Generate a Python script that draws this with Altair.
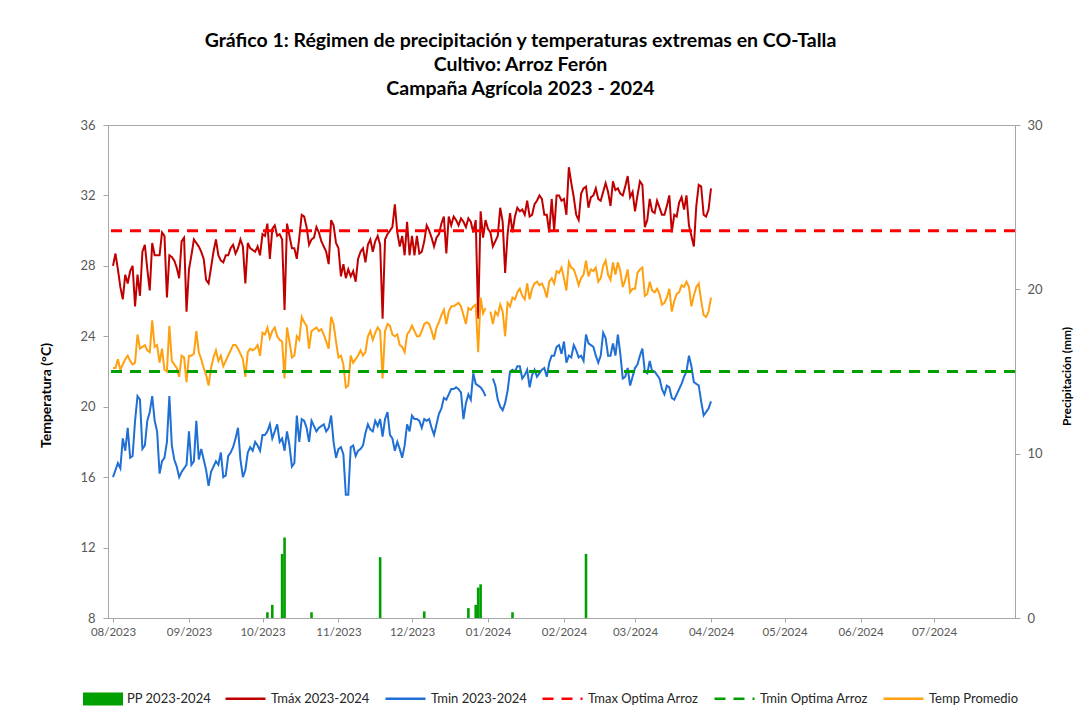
import altair as alt
import pandas as pd

# ---------------- data (daily, from 2023-08-01) ----------------
start_date = "2023-08-01"

tmax = [
    28.0, 28.7, 27.8, 26.8, 26.1, 27.5, 27.0, 27.7, 28.0, 25.7,
    27.5, 26.3, 28.8, 29.2, 27.8, 26.6, 29.3, 28.6, 28.6, 28.6,
    29.9, 29.7, 26.2, 28.6, 28.5, 28.3, 27.9, 27.3, 29.4, 29.6,
    25.4, 27.8, 28.6, 29.5, 29.3, 29.1, 28.8, 28.4, 27.2, 27.0,
    27.9, 28.8, 29.5, 28.6, 28.3, 28.2, 28.6, 28.6, 29.0, 29.2,
    28.7, 29.0, 29.5, 29.1, 27.0, 29.3, 29.0, 28.9, 28.8, 29.1,
    28.6, 29.8, 29.7, 30.4, 28.4, 30.1,
    30.3, 29.7, 29.8, 29.5, 25.5, 30.4, 29.7, 29.0, 29.0, 28.4,
    29.6, 30.9, 30.8, 30.2, 29.2, 29.5, 29.6, 30.2, 29.9, 29.4,
    29.1, 28.8, 28.1, 30.6, 30.3, 29.3, 29.0, 27.4, 28.1, 27.3,
    27.8, 27.4, 27.7, 27.1, 28.4, 28.8, 29.0, 28.2, 29.2, 29.5,
    28.8, 29.4, 29.7, 29.2, 25.0, 29.5, 29.8, 30.0, 30.2, 31.5,
    29.9, 29.1, 29.7, 28.6, 30.5, 28.6, 29.7, 28.6, 29.7, 28.7,
    28.8, 29.4,
    30.3, 30.0, 29.6, 29.1, 29.6, 29.8, 30.4, 30.8, 28.7, 30.8,
    30.3, 30.8, 30.6, 30.3, 30.7, 30.5, 30.2, 30.7, 30.5, 29.9,
    30.6, 25.0, 31.1, 29.6, 30.6, 30.1, 29.9, 29.1, 29.4, 29.7,
    31.3, 30.5, 27.6, 29.8, 31.0, 29.9, 30.8, 31.3, 31.1, 31.2,
    30.9, 31.7, 30.8, 30.9, 31.5, 31.7, 32.0, 31.8, 30.9, 30.9,
    29.9, 31.8, 30.0, 32.0, 32.0, 31.7, 31.8, 30.9, 33.6, 32.7,
    31.9, 30.9, 30.6,
    32.1, 32.4, 32.5, 31.3, 31.9, 32.0, 32.4, 31.8, 31.7, 32.2,
    32.7, 32.2, 31.4, 32.8, 32.3, 32.4, 32.1, 32.0, 32.5, 33.1,
    31.9, 32.2, 31.1, 32.0, 32.8, 32.6, 30.2, 30.6, 31.8, 31.1,
    31.0, 31.7, 31.3, 30.9, 30.9, 31.4, 32.0, 29.9, 30.9, 30.8,
    31.6, 31.9, 31.2, 32.0, 30.3, 29.7, 29.1, 31.4, 32.6, 32.5,
    30.9, 30.8, 31.2, 32.4,
]

tmin = [
    16.0, 16.4, 16.8, 16.5, 18.2, 17.5, 18.8, 17.1, 17.2, 19.2,
    20.6, 20.4, 17.6, 17.8, 19.2, 19.7, 20.6, 19.2, 18.6, 16.2,
    16.9, 17.1, 18.0, 20.6, 17.8, 17.0, 16.6, 16.0, 16.3, 16.5,
    16.7, 18.6, 16.7, 16.9, 19.2, 17.0, 17.6, 17.0, 16.4, 15.5,
    16.3, 16.6, 16.9, 16.7, 17.4, 16.0, 16.1, 17.2, 17.4, 17.7,
    18.2, 18.8, 17.0, 16.0, 16.4, 17.4, 17.7, 17.5, 18.0, 17.8,
    17.5, 18.4, 18.4, 18.6, 19.0, 18.2,
    18.6, 19.0, 18.0, 18.2, 17.5, 18.6, 17.8, 16.6, 16.8, 19.5,
    18.0, 19.3, 19.2, 18.8, 18.0, 19.2, 18.9, 18.6, 18.8, 18.9,
    19.0, 18.6, 18.8, 19.5, 18.0, 17.1, 17.6, 17.7, 17.3, 15.0,
    15.0, 17.7, 17.8, 17.2, 17.5, 17.6, 17.8, 18.5, 19.0, 18.7,
    18.6, 19.2, 18.9, 19.3, 18.3, 19.3, 19.7, 18.4, 18.2, 17.5,
    18.0, 17.6, 17.1, 17.8, 19.0, 18.6, 19.5, 19.3, 19.3, 19.2,
    18.8, 19.3,
    19.2, 19.3, 18.8, 18.4, 19.0, 19.6, 19.9, 20.5, 20.4, 20.7,
    21.0, 21.0, 21.1, 21.0, 20.8, 19.3, 20.2, 20.7, 20.4, 21.9,
    21.3, 21.2, 21.1, 20.9, 20.6, None, None, 21.6, 21.2, 20.4,
    20.0, 19.8, 20.2, 20.9, 22.0, 22.1, 22.0, 22.3, 22.3, 21.6,
    21.8, 22.1, 21.1, 21.8, 22.1, 21.7, 21.9, 22.1, 22.2, 21.7,
    22.5, 22.9, 22.9, 23.4, 23.5, 23.0, 23.7, 22.5, 22.9, 22.8,
    23.5, 23.2, 22.8,
    22.9, 22.6, 24.1, 23.6, 23.5, 23.4, 22.9, 22.5, 22.9, 24.2,
    23.9, 22.9, 22.9, 23.6, 22.9, 24.1, 23.0, 21.6, 21.7, 22.2,
    21.2, 21.7, 22.2, 22.4, 22.9, 23.3, 22.0, 21.9, 22.6, 22.0,
    22.0, 21.8, 21.6, 21.0, 20.7, 21.2, 21.1, 20.5, 20.4, 20.7,
    21.0, 21.3, 21.7, 22.0, 22.9, 22.3, 21.4, 21.3, 21.2, 20.3,
    19.5, 19.7, 19.9, 20.3,
]

tprom = [
    22.2, 22.2, 22.7, 22.1, 22.4, 22.7, 22.9, 22.6, 22.4, 22.5,
    24.1, 23.3, 23.4, 23.5, 23.2, 23.1, 24.9, 23.4, 23.5, 22.5,
    23.3, 22.1, 22.0, 24.6, 22.6, 22.4, 22.2, 21.7, 22.9, 22.8,
    21.4, 22.9, 22.9, 23.0, 24.3, 23.1, 22.7, 22.2, 21.8, 21.2,
    22.2, 22.8, 23.2, 22.6, 22.9, 22.3, 22.6, 22.9, 23.2, 23.5,
    23.5, 23.3, 23.0, 22.7, 21.7, 23.1, 23.3, 23.2, 23.3, 23.5,
    22.9, 24.2, 24.1, 24.5, 23.9, 24.3,
    24.5, 24.0, 23.8, 23.7, 21.6, 24.5, 23.7, 22.8, 22.9, 24.0,
    23.8, 25.1, 24.8, 24.6, 23.3, 24.3, 24.4, 24.5, 24.3, 24.4,
    24.1, 23.7, 23.3, 25.1, 24.7, 23.7, 22.8, 22.9, 22.4, 21.1,
    21.2, 22.9, 22.5, 22.7, 22.9, 23.2, 22.9, 23.1, 24.0, 24.3,
    23.8, 24.2, 24.5, 24.3, 21.6, 24.3, 24.7, 24.6, 24.1, 24.0,
    24.1, 23.5, 23.4, 23.1, 24.1, 24.3, 24.6, 24.3, 24.0, 24.0,
    24.3, 24.7,
    24.8, 24.7, 24.3, 23.8, 24.5, 24.8, 25.2, 25.5, 24.7, 25.4,
    25.7, 25.7, 25.8, 25.9, 25.7, 25.2, 24.7, 25.6, 25.5, 25.7,
    25.8, 23.1, 26.2, 25.3, 25.6, None, 25.4, 24.7, 25.4, 25.2,
    25.8, 25.4, 24.0, 25.9, 25.7, 26.2, 26.1, 26.5, 26.7, 26.3,
    26.1, 27.0, 26.1, 26.7, 27.0, 27.1, 26.9, 27.0, 26.7, 26.2,
    27.1, 27.3, 27.0, 27.7, 27.6, 27.9, 27.3, 26.6, 28.2, 27.9,
    27.8, 27.4, 26.9,
    27.3, 27.5, 28.3, 27.4, 27.8, 27.7, 27.9, 27.1, 27.3, 28.0,
    28.3, 27.5, 27.2, 28.2, 27.5, 28.2, 27.7, 26.8, 27.2, 27.8,
    26.5, 26.7, 26.7, 27.6, 27.8, 27.9, 26.3, 26.4, 27.1, 26.6,
    26.5, 26.7, 26.4, 25.8, 25.9, 26.2, 26.7, 25.4, 26.0, 26.4,
    26.5, 26.9, 26.8, 27.1, 26.8, 25.7, 26.3, 26.8, 27.0, 26.0,
    25.2, 25.1, 25.4, 26.2,
]

pp_dates = ["2023-10-03", "2023-10-05", "2023-10-09", "2023-10-10", "2023-10-21",
            "2023-11-18", "2023-12-06", "2023-12-24", "2023-12-27", "2023-12-28",
            "2023-12-29", "2024-01-11", "2024-02-10"]
pp_values = [0.35, 0.8, 3.9, 4.9, 0.35, 3.7, 0.4, 0.6, 0.8, 1.85, 2.05, 0.35, 3.9]

series_names = ["Tmáx 2023-2024", "Tmin 2023-2024", "Tmax Optima Arroz",
                "Tmin Optima Arroz", "Temp Promedio"]
series_colors = ["#C00000", "#1F6FD4", "#FF0000", "#00A000", "#FFA010"]
series_dashes = [[1, 0], [1, 0], [11, 8], [11, 8], [1, 0]]

optima_names = ["Tmax Optima Arroz", "Tmin Optima Arroz"]
optima_values = [30, 22]

pp_name = "PP 2023-2024"

month_labels = [(2023, 8), (2023, 9), (2023, 10), (2023, 11), (2023, 12),
                (2024, 1), (2024, 2), (2024, 3), (2024, 4), (2024, 5),
                (2024, 6), (2024, 7)]
temp_ticks = [8, 12, 16, 20, 24, 28, 32, 36]
pp_ticks = [0, 10, 20, 30]

# ---------------- tables ----------------
dates = pd.date_range(start_date, periods=len(tmax), freq="D")
lines_df = pd.concat([
    pd.DataFrame({"fecha": dates, "serie": series_names[0], "valor": tmax}),
    pd.DataFrame({"fecha": dates, "serie": series_names[1], "valor": tmin}),
    pd.DataFrame({"fecha": dates, "serie": series_names[4], "valor": tprom}),
], ignore_index=True)
optima_df = pd.DataFrame({"serie": optima_names, "valor": optima_values})
pp_df = pd.DataFrame({"fecha": pd.to_datetime(pp_dates), "pp": pp_values, "serie": pp_name})

FONT = "Lato"

x_enc = alt.X(
    "fecha:T",
    scale=alt.Scale(domain=[alt.DateTime(year=2023, month=8, date=1),
                            alt.DateTime(year=2024, month=8, date=1)], nice=False),
    axis=alt.Axis(title=None, format="%m/%Y",
                  values=[alt.DateTime(year=y, month=m, date=1) for y, m in month_labels],
                  labelFontSize=11.5, tickSize=4, labelPadding=4, labelOverlap=False,
                  labelFlush=False),
)

legend_common = dict(title=None, orient="none", direction="horizontal",
                     labelFont=FONT, labelFontSize=13, labelColor="#262626", labelOffset=4)

line_legend = alt.Legend(legendX=116, legendY=552, symbolType="stroke",
                         symbolSize=1600, symbolStrokeWidth=2.5, columnPadding=10,
                         **legend_common)

temp_scale = alt.Scale(domain=[8, 36], nice=False, zero=False)
color_enc = alt.Color("serie:N", scale=alt.Scale(domain=series_names, range=series_colors),
                      legend=line_legend)
dash_enc = alt.StrokeDash("serie:N", scale=alt.Scale(domain=series_names, range=series_dashes),
                          legend=line_legend)

bars = alt.Chart(pp_df).mark_bar(width=2.6).encode(
    x=x_enc,
    y=alt.Y("pp:Q", scale=alt.Scale(domain=[0, 30], nice=False),
            axis=alt.Axis(orient="right", values=pp_ticks, title="Precipitación (mm)",
                          titleAngle=-90, titleX=58, titleY=251, titleBaseline="bottom",
                          titleAlign="center", titleFontSize=12,
                          labelFontSize=13, tickSize=5, labelPadding=7)),
    fill=alt.Fill("serie:N", scale=alt.Scale(domain=[pp_name], range=["#00A000"]),
                  legend=alt.Legend(legendX=-25, legendY=554,
                                    symbolType="M-1,-0.33H1V0.33H-1Z", symbolSize=1600,
                                    symbolStrokeWidth=0, **legend_common)),
)

lines = alt.Chart(lines_df).mark_line(strokeWidth=2, invalid="break-paths-show-domains").encode(
    x=x_enc,
    y=alt.Y("valor:Q", scale=temp_scale,
            axis=alt.Axis(orient="left", values=temp_ticks, title="Temperatura (°C)",
                          titleAngle=-90, titleX=-55, titleY=270, titleBaseline="bottom",
                          titleAlign="center", titleFontSize=14,
                          labelFontSize=13, tickSize=5, labelPadding=8)),
    color=color_enc,
    strokeDash=dash_enc,
)

rules = alt.Chart(optima_df).mark_rule(strokeWidth=3).encode(
    y=alt.Y("valor:Q", scale=temp_scale, axis=None),
    color=color_enc,
    strokeDash=dash_enc,
)

chart = alt.layer(bars, lines, rules).resolve_scale(y="independent").properties(
    width=907,
    height=493,
    autosize=alt.AutoSizeParams(type="none"),
    padding={"left": 100, "top": 117, "right": 62, "bottom": 92},
    title=alt.TitleParams(
        text=["Gráfico 1:  Régimen de precipitación y temperaturas extremas en CO-Talla",
              "Cultivo: Arroz Ferón",
              "Campaña Agrícola 2023 - 2024"],
        font=FONT, fontSize=19.5, fontWeight="bold", color="#000000",
        lineHeight=24, anchor="middle", dx=-41, offset=20,
    ),
).configure_axis(
    labelFont=FONT, labelColor="#595959", titleFont=FONT,
    titleFontWeight="bold", titleColor="#000000", domainColor="#A6A6A6",
    tickColor="#A6A6A6", grid=False,
).configure_view(stroke="#A6A6A6", strokeWidth=1)

chart.save("out.html", embed_options={"renderer": "svg", "actions": False})
